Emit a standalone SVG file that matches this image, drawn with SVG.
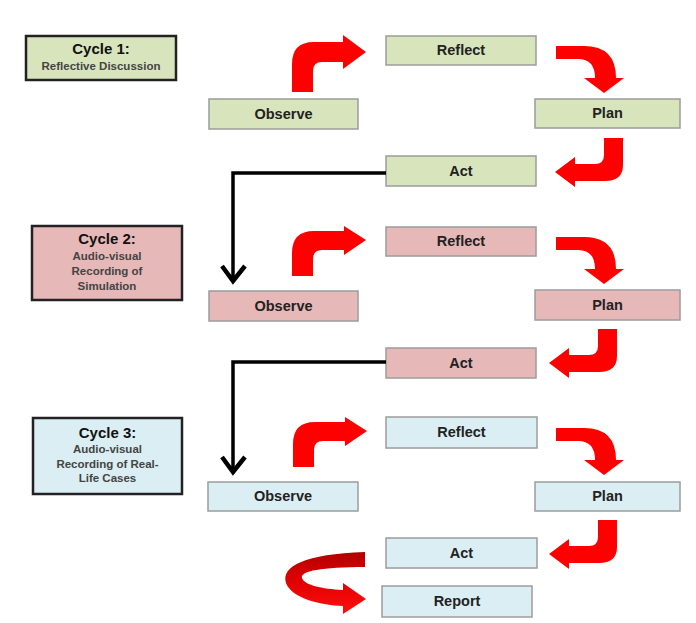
<svg xmlns="http://www.w3.org/2000/svg" xmlns:xlink="http://www.w3.org/1999/xlink" width="696" height="623" viewBox="0 0 696 623">
<style>
.node{stroke:#9c9c9c;stroke-width:1.5}
.cyc{stroke:#222;stroke-width:2.5}
.g{fill:#d8e4bc}.p{fill:#e6b8b7}.b{fill:#dbeef3}
.lbl{font-family:"Liberation Sans",Arial,sans-serif;font-weight:bold;font-size:14.5px;fill:#222;text-anchor:middle}
.ttl{font-family:"Liberation Sans",Arial,sans-serif;font-weight:bold;font-size:15px;fill:#111;text-anchor:middle}
.sub{font-family:"Liberation Sans",Arial,sans-serif;font-weight:bold;font-size:11.5px;fill:#444;text-anchor:middle}
.red{fill:#ff0000}
.blk{fill:none;stroke:#000;stroke-width:3.5}
.head{fill:none;stroke:#000;stroke-width:4.5;stroke-linejoin:miter}
</style>
<defs>
<linearGradient id="rg" x1="0" y1="0" x2="0" y2="1">
<stop offset="0" stop-color="#b00000"/>
<stop offset="0.45" stop-color="#e00000"/>
<stop offset="1" stop-color="#ff1010"/>
</linearGradient>
<path id="upRight" d="M292,85 L292,62 Q292,40 314,40 L344,40 L344,35 L366,49 L344,64 L344,59 L322,59 Q313,59 313,68 L313,85 Z"/>
<path id="rightDown" d="M556,46 L584,46 Q616,46 616,78 L624,78 L604,93 L584,78 L595,78 Q595,59 578,59 L556,59 Z"/>
<path id="downLeft" d="M604,138 L623,138 L623,165 Q623,181 605,181 L575,181 L575,187 L555,172 L575,157 L575,164 L595,164 Q604,164 604,155 Z"/>
</defs>
<rect width="696" height="623" fill="#fff"/>

<g id="cycle1">
<rect class="cyc g" x="26" y="36" width="150" height="44"/>
<text class="ttl" x="101" y="54">Cycle 1:</text>
<text class="sub" x="101" y="70">Reflective Discussion</text>
</g>
<g id="observe1"><rect class="node g" x="209" y="99" width="149" height="30"/><text class="lbl" x="283.5" y="119">Observe</text></g>
<g id="reflect1"><rect class="node g" x="386" y="36" width="150" height="29"/><text class="lbl" x="461" y="55">Reflect</text></g>
<g id="plan1"><rect class="node g" x="535" y="99" width="145" height="29"/><text class="lbl" x="607.5" y="118">Plan</text></g>
<g id="act1"><rect class="node g" x="386" y="156" width="150" height="30"/><text class="lbl" x="461" y="176">Act</text></g>

<g id="cycle2">
<rect class="cyc p" x="32" y="226" width="150" height="74"/>
<text class="ttl" x="107" y="244">Cycle 2:</text>
<text class="sub" x="107" y="260">Audio-visual</text>
<text class="sub" x="107" y="275">Recording of</text>
<text class="sub" x="107" y="290">Simulation</text>
</g>
<g id="observe2"><rect class="node p" x="209" y="291" width="149" height="30"/><text class="lbl" x="283.5" y="311">Observe</text></g>
<g id="reflect2"><rect class="node p" x="386" y="227" width="150" height="29"/><text class="lbl" x="461" y="246">Reflect</text></g>
<g id="plan2"><rect class="node p" x="535" y="290" width="145" height="30"/><text class="lbl" x="607.5" y="310">Plan</text></g>
<g id="act2"><rect class="node p" x="386" y="348" width="150" height="30"/><text class="lbl" x="461" y="368">Act</text></g>

<g id="cycle3">
<rect class="cyc b" x="33" y="418" width="149" height="76"/>
<text class="ttl" x="107.5" y="438">Cycle 3:</text>
<text class="sub" x="107.5" y="453">Audio-visual</text>
<text class="sub" x="107.5" y="468">Recording of Real-</text>
<text class="sub" x="107.5" y="482">Life Cases</text>
</g>
<g id="observe3"><rect class="node b" x="208" y="482" width="150" height="29"/><text class="lbl" x="283" y="501">Observe</text></g>
<g id="reflect3"><rect class="node b" x="386" y="417" width="151" height="31"/><text class="lbl" x="461.5" y="437">Reflect</text></g>
<g id="plan3"><rect class="node b" x="535" y="482" width="145" height="29"/><text class="lbl" x="607.5" y="501">Plan</text></g>
<g id="act3"><rect class="node b" x="386" y="538" width="151" height="30"/><text class="lbl" x="461.5" y="558">Act</text></g>
<g id="report"><rect class="node b" x="382" y="586" width="150" height="31"/><text class="lbl" x="457" y="606">Report</text></g>

<g id="connectors">
<path class="red" d="M292,92 L292,64 Q292,42 314,42 L343,42 L343,35 L366,52 L343,69 L343,62 L322,62 Q313,62 313,71 L313,92 Z"/>
<use xlink:href="#rightDown" class="red"/>
<use xlink:href="#downLeft" class="red"/>
<use xlink:href="#upRight" class="red" transform="translate(0,191)"/>
<use xlink:href="#rightDown" class="red" transform="translate(0,191)"/>
<use xlink:href="#downLeft" class="red" transform="translate(-6,191)"/>
<use xlink:href="#upRight" class="red" transform="translate(1,382)"/>
<use xlink:href="#rightDown" class="red" transform="translate(0,382)"/>
<use xlink:href="#downLeft" class="red" transform="translate(-6,382)"/>
<path fill="url(#rg)" d="M365,552 C305,554 281,566 286,583 C292,599 322,605 343,606 L343,614 L366,599 L343,583 L343,590 C322,589 304,585 302,578 C300,571 322,567 365,567 Z"/>
<path class="blk" d="M386,173 L233,173 L233,279"/>
<polyline class="head" points="222,266 233,281 245,266"/>
<path class="blk" d="M386,362 L233,362 L233,470"/>
<polyline class="head" points="222,457 233,472 245,457"/>
</g>
</svg>
